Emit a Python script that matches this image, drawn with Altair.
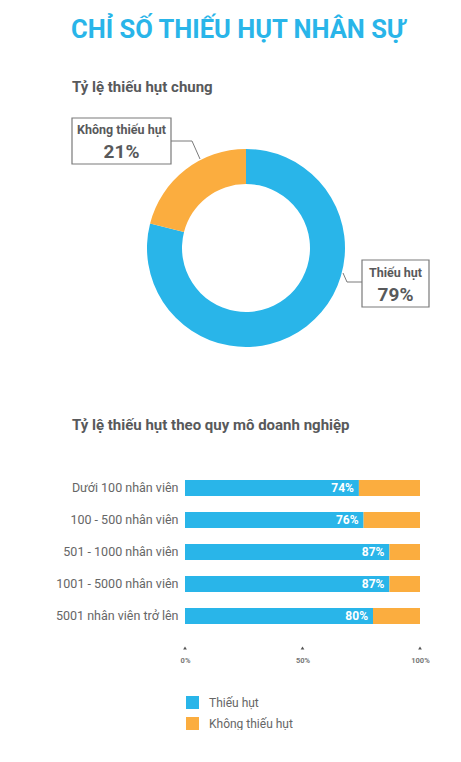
import altair as alt
import pandas as pd

# dữ liệu
tieu_de = "CHỈ SỐ THIẾU HỤT NHÂN SỰ"
phan_loai = ["Thiếu hụt", "Không thiếu hụt"]
ty_le_chung = [79, 21]

nhom = ["Dưới 100 nhân viên", "100 - 500 nhân viên", "501 - 1000 nhân viên",
        "1001 - 5000 nhân viên", "5001 nhân viên trở lên"]
thieu_hut = [74, 76, 87, 87, 80]
khong_thieu_hut = [26, 24, 13, 13, 20]
moc_truc_x = [0, 50, 100]

XANH = "#29B5E9"
CAM = "#FBAD3F"
CHU = "#58595B"
FONT = "Roboto"

mau = alt.Scale(domain=phan_loai, range=[XANH, CAM])

# ---- phần trên: biểu đồ tròn
df_tron = pd.DataFrame({"loai": phan_loai, "ty_le": ty_le_chung, "thu_tu": [0, 1]})
base_tron = alt.Chart(df_tron)

donut = base_tron.mark_arc(innerRadius=64, outerRadius=99).encode(
    x=alt.value(61), y=alt.value(240),
    theta=alt.Theta("ty_le:Q", stack=True),
    color=alt.Color("loai:N", scale=mau, legend=None),
    order=alt.Order("thu_tu:Q"),
)

def chu(text, x, y, size, color=CHU, weight="bold", align="center"):
    return alt.Chart(pd.DataFrame({"t": [text]})).mark_text(
        font=FONT, fontSize=size, fontWeight=weight, color=color,
        align=align, baseline="middle",
    ).encode(text="t:N", x=alt.value(x), y=alt.value(y))

def khung(x1, x2, y1, y2):
    return alt.Chart(pd.DataFrame({"a": [0]})).mark_rect(
        fill="white", stroke="#7A7A7A", strokeWidth=1.2
    ).encode(x=alt.value(x1), x2=alt.value(x2), y=alt.value(y1), y2=alt.value(y2))

def doan(x1, y1, x2, y2):
    return alt.Chart(pd.DataFrame({"a": [0]})).mark_rule(
        color="#7A7A7A", strokeWidth=1
    ).encode(x=alt.value(x1), x2=alt.value(x2), y=alt.value(y1), y2=alt.value(y2))

# mốc vô hình để cố định lề trái và trên
moc = alt.Chart(pd.DataFrame({"a": [0]})).mark_rule(opacity=0).encode(
    x=alt.value(-177), x2=alt.value(-176), y=alt.value(0), y2=alt.value(1)
)

phan_tren = alt.layer(
    moc,
    chu(tieu_de, 53, 22, 25.5, color=XANH),
    chu("Tỷ lệ thiếu hụt chung", -113, 79, 15, align="left"),
    donut,
    doan(-14, 133, 7, 133), doan(7, 133, 15, 151),
    doan(158, 265, 162, 274), doan(162, 274, 177, 274),
    khung(-113, -14, 110, 156),
    chu(f"{phan_loai[1]}", -63.5, 122, 12.5),
    chu(f"{ty_le_chung[1]}%", -63.5, 144, 19),
    khung(177, 244, 252, 299),
    chu(f"{phan_loai[0]}", 210.5, 265, 12.5),
    chu(f"{ty_le_chung[0]}%", 210.5, 287, 19),
    chu("Tỷ lệ thiếu hụt theo quy mô doanh nghiệp", -113, 417, 15, align="left"),
).properties(width=235, height=430)

# ---- phần dưới: thanh chồng
rows = []
for n, a, b in zip(nhom, thieu_hut, khong_thieu_hut):
    rows.append({"nhom": n, "loai": phan_loai[0], "gia_tri": a, "thu_tu": 0, "nhan": f"{a}%", "dinh": a})
    rows.append({"nhom": n, "loai": phan_loai[1], "gia_tri": b, "thu_tu": 1, "nhan": "", "dinh": a})
df_thanh = pd.DataFrame(rows)

y_truc = alt.Y("nhom:N", sort=nhom, title=None,
               scale=alt.Scale(paddingInner=0.5, paddingOuter=0.25),
               axis=alt.Axis(ticks=False, domain=False, labelFont=FONT, labelFontSize=12.5,
                             labelColor="#666666", labelPadding=7, labelLimit=200))

thanh = alt.Chart(df_thanh).mark_bar().encode(
    y=y_truc,
    x=alt.X("gia_tri:Q", stack="zero", title=None,
            scale=alt.Scale(domain=[0, 100], nice=False),
            axis=alt.Axis(values=moc_truc_x, labelExpr="datum.value + '%'", grid=False,
                          domain=False, ticks=False, offset=15, labelFont=FONT,
                          labelFontSize=7.5, labelFontWeight="bold",
                          labelColor="#777", labelPadding=9, labelFlush=False)),
    color=alt.Color("loai:N", scale=mau, sort=phan_loai,
                    legend=alt.Legend(title=None, orient="none", legendX=1, legendY=224,
                                      direction="vertical", symbolType="square",
                                      symbolSize=169, symbolStrokeWidth=0, symbolOpacity=1,
                                      labelFont=FONT, labelFontSize=12, labelColor="#666666",
                                      labelOffset=10, rowPadding=8, padding=0)),
    order=alt.Order("thu_tu:Q"),
)

nhan_thanh = alt.Chart(df_thanh).transform_filter("datum.thu_tu == 0").mark_text(
    font=FONT, fontSize=12, fontWeight="bold", color="white", align="right", dx=-5
).encode(y=alt.Y("nhom:N", sort=nhom), x=alt.X("dinh:Q"), text="nhan:N")

# vạch chia dạng tam giác nhỏ
vach = alt.Chart(pd.DataFrame({"v": moc_truc_x})).mark_point(
    shape="triangle-up", filled=True, size=14, color="#555555", opacity=1
).encode(x=alt.X("v:Q"), y=alt.value(176))

moc2 = alt.Chart(pd.DataFrame({"a": [0]})).mark_rule(opacity=0).encode(
    x=alt.value(-177), x2=alt.value(-176), y=alt.value(0), y2=alt.value(1)
)

phan_duoi = alt.layer(moc2, thanh, nhan_thanh, vach).properties(width=235, height=160)

chart = alt.vconcat(phan_tren, phan_duoi, spacing=34).resolve_scale(
    color="independent"
).properties(padding=0, background="white").configure_view(stroke=None)

chart.save("out.html", embed_options={"renderer": "svg", "actions": False})
